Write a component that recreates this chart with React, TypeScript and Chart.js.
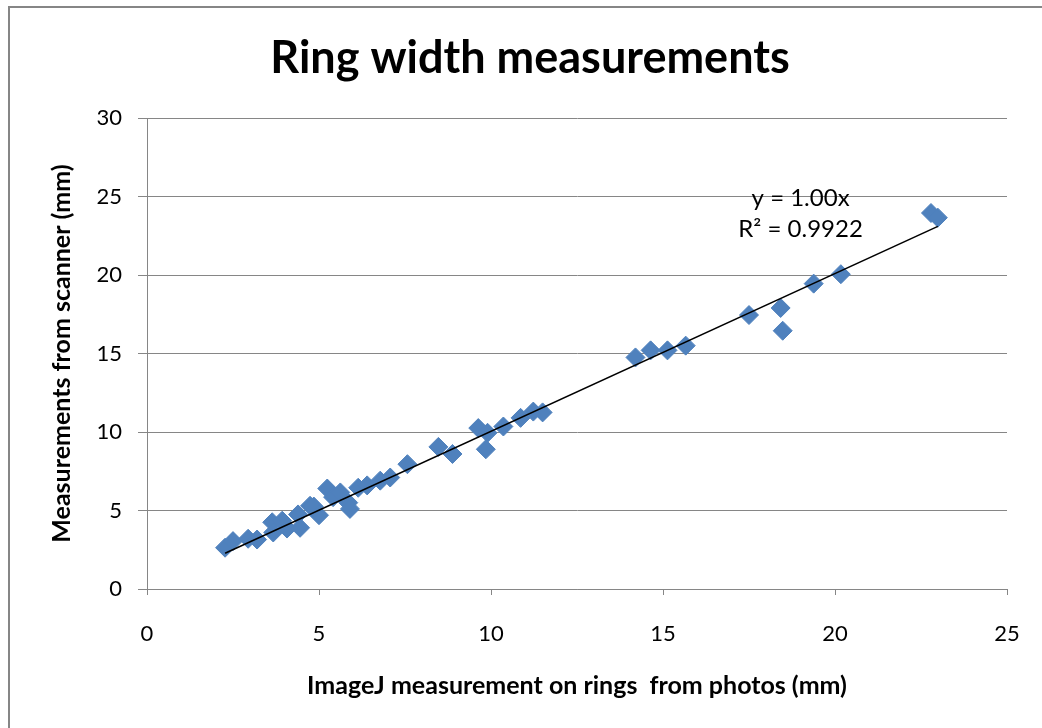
import React, { useEffect, useRef } from "react";
import { Chart, registerables } from "chart.js";

Chart.register(...registerables);

// Data
const xValues = [
  2.27, 2.5, 2.94, 3.2, 3.64, 3.67, 3.93, 4.07, 4.39, 4.45, 4.74, 4.85, 5.0,
  5.24, 5.41, 5.62, 5.85, 5.9, 6.14, 6.4, 6.78, 7.07, 7.57, 8.47, 8.88, 9.63,
  9.9, 9.85, 10.36, 10.86, 11.23, 11.5, 14.2, 14.64, 15.13, 15.66, 17.5, 18.42,
  18.48, 19.38, 20.17, 22.79, 22.99,
];
const yValues = [
  2.63, 3.05, 3.2, 3.15, 4.25, 3.6, 4.35, 3.85, 4.75, 3.9, 5.3, 5.25, 4.7,
  6.4, 5.85, 6.15, 5.5, 5.1, 6.45, 6.6, 6.9, 7.1, 7.95, 9.05, 8.6, 10.25,
  9.95, 8.9, 10.35, 10.9, 11.3, 11.25, 14.75, 15.2, 15.2, 15.5, 17.45, 17.9,
  16.45, 19.45, 20.05, 23.95, 23.65,
];
const xTickValues = [0, 5, 10, 15, 20, 25];
const yTickValues = [0, 5, 10, 15, 20, 25, 30];
const chartTitle = "Ring width measurements";
const xTitle = "ImageJ measurement on rings  from photos (mm)";
const yTitle = "Measurements from scanner (mm)";
const equationLines = ["y = 1.00x", "R² = 0.9922"];

const FONT = "Lato, 'Open Sans', sans-serif";
const GRID = "#868686";
const BLUE = "#4F81BD";

export default function App() {
  const ref = useRef<HTMLCanvasElement | null>(null);

  useEffect(() => {
    if (!ref.current) return;
    const points = xValues.map((x, i) => ({ x, y: yValues[i] }));
    // least-squares trendline through the origin (Excel "set intercept = 0")
    let sxy = 0;
    let sxx = 0;
    xValues.forEach((x, i) => {
      sxy += x * yValues[i];
      sxx += x * x;
    });
    const slope = sxy / sxx;
    const xmin = Math.min(...xValues);
    const xmax = Math.max(...xValues);
    const trend = [
      { x: xmin, y: slope * xmin },
      { x: xmax, y: slope * xmax },
    ];

    const textPlugin = {
      id: "textLabels",
      afterDraw(chart: any) {
        const { ctx, scales } = chart;
        ctx.save();
        // chart title
        ctx.font = `bold 45px ${FONT}`;
        ctx.fillStyle = "#000";
        ctx.textAlign = "center";
        ctx.textBaseline = "alphabetic";
        ctx.fillText(chartTitle, 530, 73);
        // trendline equation
        const cx = scales.x.getPixelForValue(19.0);
        ctx.font = `24px ${FONT}`;
        ctx.textBaseline = "middle";
        ctx.fillText(equationLines[0], cx, scales.y.getPixelForValue(24.9));
        ctx.fillText(equationLines[1], cx, scales.y.getPixelForValue(22.9));
        ctx.restore();
      },
    };

    const chart = new Chart(ref.current, {
      type: "scatter",
      data: {
        datasets: [
          {
            type: "line",
            data: trend,
            borderColor: "#000",
            borderWidth: 1.6,
            pointRadius: 0,
            fill: false,
            tension: 0,
          } as any,
          {
            data: points,
            pointStyle: "rectRot",
            pointRadius: 9.5,
            backgroundColor: BLUE,
            borderColor: BLUE,
            borderWidth: 1,
          },
        ],
      },
      options: {
        responsive: false,
        animation: false,
        events: [],
        layout: { padding: { left: 0, right: 35, top: 118, bottom: 0 } },
        plugins: {
          legend: { display: false },
          tooltip: { enabled: false },
          title: { display: false },
        },
        scales: {
          x: {
            type: "linear",
            min: 0,
            max: 25,
            afterBuildTicks: (s: any) => {
              s.ticks = xTickValues.map((v) => ({ value: v }));
            },
            ticks: {
              color: "#000",
              font: { family: FONT, size: 22 },
              padding: 26,
              maxRotation: 0,
            },
            grid: {
              drawOnChartArea: false,
              drawTicks: true,
              tickLength: 6,
              color: GRID,
              lineWidth: 1,
            },
            border: { display: true, color: GRID, width: 1 },
            title: {
              display: true,
              text: xTitle,
              color: "#000",
              font: { family: FONT, size: 25, weight: "bold" },
              padding: { top: 0, bottom: 27 },
            },
            afterFit: (s: any) => {
              s.height = 139;
              s.paddingLeft = 12;
              s.paddingRight = 12;
            },
          },
          y: {
            type: "linear",
            min: 0,
            max: 30,
            afterBuildTicks: (s: any) => {
              s.ticks = yTickValues.map((v) => ({ value: v }));
            },
            ticks: {
              color: "#000",
              font: { family: FONT, size: 22 },
              padding: 16,
            },
            grid: {
              drawOnChartArea: true,
              drawTicks: true,
              tickLength: 9,
              color: GRID,
              lineWidth: 1,
            },
            border: { display: true, color: GRID, width: 1 },
            title: {
              display: true,
              text: yTitle,
              color: "#000",
              font: { family: FONT, size: 25, weight: "bold" },
              padding: { top: 47, bottom: 0 },
            },
            afterFit: (s: any) => {
              s.width = 147;
            },
          },
        },
      },
      plugins: [textPlugin],
    } as any);

    return () => chart.destroy();
  }, []);

  return (
    <div
      style={{
        position: "fixed",
        left: 0,
        top: 0,
        width: 1042,
        height: 728,
        overflow: "hidden",
        background: "#fff",
      }}
    >
      <canvas
        ref={ref}
        width={1042}
        height={728}
        style={{ position: "absolute", left: 0, top: 0, width: 1042, height: 728 }}
      />
      <div
        style={{
          position: "absolute",
          left: 8,
          top: 6,
          width: 1200,
          height: 900,
          border: `2px solid ${GRID}`,
          boxSizing: "border-box",
          pointerEvents: "none",
        }}
      />
    </div>
  );
}
